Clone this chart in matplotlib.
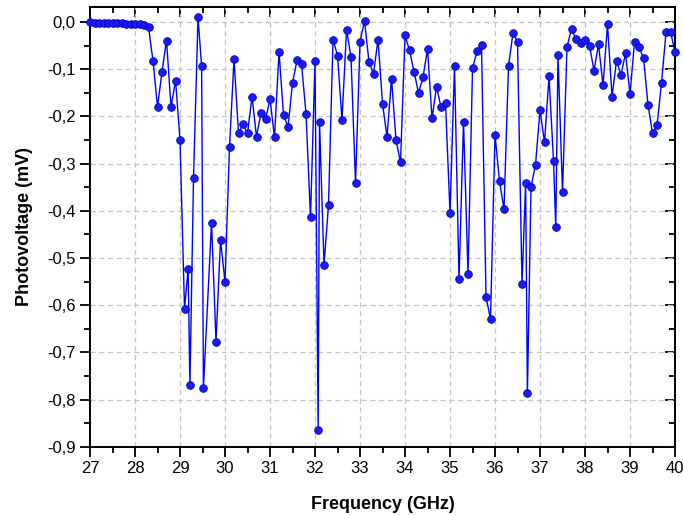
import numpy as np
import matplotlib
matplotlib.use('Agg')
import matplotlib.pyplot as plt
from matplotlib.ticker import MultipleLocator, FuncFormatter

plt.rcParams['font.family'] = ['Liberation Sans', 'DejaVu Sans']
plt.rcParams['font.size'] = 12

freq = [27.0, 27.1, 27.2, 27.3, 27.4, 27.5, 27.6, 27.7, 27.8, 27.9,
        28.0, 28.1, 28.2, 28.3, 28.4, 28.5, 28.6, 28.7, 28.8, 28.9,
        29.0, 29.1, 29.18, 29.22, 29.3, 29.4, 29.48, 29.52, 29.7, 29.8,
        29.9, 30.0, 30.1, 30.2, 30.3, 30.4, 30.5, 30.6, 30.7, 30.8,
        30.9, 31.0, 31.1, 31.2, 31.3, 31.4, 31.5, 31.6, 31.7, 31.8,
        31.9, 32.0, 32.07, 32.1, 32.2, 32.3, 32.4, 32.5, 32.6, 32.7,
        32.8, 32.9, 33.0, 33.1, 33.2, 33.3, 33.4, 33.5, 33.6, 33.7,
        33.8, 33.9, 34.0, 34.1, 34.2, 34.3, 34.4, 34.5, 34.6, 34.7,
        34.8, 34.9, 35.0, 35.1, 35.2, 35.3, 35.4, 35.5, 35.6, 35.7,
        35.8, 35.9, 36.0, 36.1, 36.2, 36.3, 36.4, 36.5, 36.6, 36.68,
        36.72, 36.8, 36.9, 37.0, 37.1, 37.2, 37.3, 37.35, 37.4, 37.5,
        37.6, 37.7, 37.8, 37.9, 38.0, 38.1, 38.2, 38.3, 38.4, 38.5,
        38.6, 38.7, 38.8, 38.9, 39.0, 39.1, 39.2, 39.3, 39.4, 39.5,
        39.6, 39.7, 39.8, 39.9, 40.0]
volt = [-0.000, -0.001, -0.001, -0.001, -0.002, -0.001, -0.001, -0.002, -0.004, -0.003,
        -0.005, -0.005, -0.007, -0.011, -0.082, -0.180, -0.105, -0.039, -0.180, -0.124,
        -0.250, -0.608, -0.523, -0.769, -0.330, 0.010, -0.093, -0.776, -0.425, -0.677,
        -0.462, -0.551, -0.264, -0.079, -0.236, -0.216, -0.236, -0.158, -0.243, -0.192,
        -0.206, -0.163, -0.244, -0.063, -0.197, -0.222, -0.129, -0.081, -0.089, -0.194,
        -0.414, -0.083, -0.865, -0.212, -0.515, -0.387, -0.037, -0.071, -0.208, -0.016,
        -0.074, -0.342, -0.042, 0.003, -0.085, -0.109, -0.037, -0.173, -0.243, -0.120,
        -0.250, -0.297, -0.028, -0.060, -0.105, -0.150, -0.117, -0.057, -0.204, -0.137,
        -0.180, -0.171, -0.405, -0.092, -0.545, -0.211, -0.534, -0.098, -0.062, -0.049,
        -0.583, -0.629, -0.239, -0.337, -0.397, -0.093, -0.023, -0.042, -0.556, -0.341,
        -0.787, -0.350, -0.302, -0.187, -0.255, -0.115, -0.294, -0.434, -0.069, -0.361,
        -0.052, -0.015, -0.036, -0.045, -0.038, -0.050, -0.103, -0.047, -0.134, -0.005,
        -0.158, -0.082, -0.112, -0.066, -0.153, -0.042, -0.053, -0.076, -0.175, -0.236,
        -0.219, -0.129, -0.022, -0.020, -0.064]

fig = plt.figure(figsize=(6.83, 5.15), dpi=100)
ax = fig.add_axes([0.1318, 0.1326, 0.8565, 0.8538])

ax.plot(freq, volt, color='#0000ff', lw=1.0, marker='o', markersize=5.5,
        markerfacecolor='#1a1aff', markeredgecolor='#0000b0', markeredgewidth=0.6,
        clip_on=False, zorder=3)

ax.set_xlim(27, 40)
ax.set_ylim(-0.9, 0.032)
ax.xaxis.set_major_locator(MultipleLocator(1))
ax.xaxis.set_minor_locator(MultipleLocator(0.5))
ax.yaxis.set_major_locator(MultipleLocator(0.1))
ax.yaxis.set_minor_locator(MultipleLocator(0.05))
ax.yaxis.set_major_formatter(FuncFormatter(lambda v, p: ('%.1f' % v).replace('.', ',').replace('-0,0', '0,0')))
ax.grid(True, which='major', color='#c4c4c4', linestyle=(0, (4, 3)), linewidth=0.9)
ax.set_axisbelow(True)

ax.tick_params(which='major', direction='out', length=7, width=1.3, labelsize=12)
ax.tick_params(which='minor', direction='out', length=4, width=1.3)
for s in ax.spines.values():
    s.set_linewidth(1.4)

top = ax.secondary_xaxis('top')
top.xaxis.set_major_locator(MultipleLocator(1))
top.xaxis.set_minor_locator(MultipleLocator(0.5))
top.tick_params(which='major', direction='in', length=7, width=1.3, labeltop=False)
top.tick_params(which='minor', direction='in', length=4, width=1.3)
top.spines['top'].set_linewidth(1.4)
right = ax.secondary_yaxis('right')
right.yaxis.set_major_locator(MultipleLocator(0.1))
right.yaxis.set_minor_locator(MultipleLocator(0.05))
right.tick_params(which='major', direction='in', length=7, width=1.3, labelright=False)
right.tick_params(which='minor', direction='in', length=4, width=1.3)
right.spines['right'].set_linewidth(1.4)

ax.set_xlabel('Frequency (GHz)', fontsize=13, fontweight='bold', labelpad=14)
ax.set_ylabel('Photovoltage (mV)', fontsize=13, fontweight='bold', labelpad=10)

fig.savefig('out.png', dpi=100)
